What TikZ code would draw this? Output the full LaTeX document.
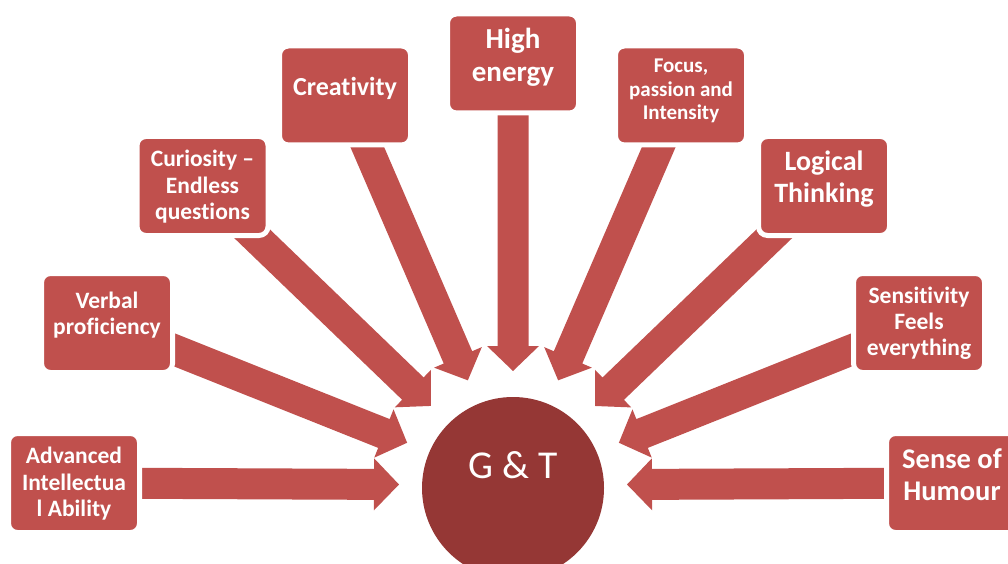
\documentclass[tikz,border=0pt]{standalone}
\usepackage{fontspec}
\setmainfont{Carlito}[Ligatures=NoCommon, Contextuals=NoAlternate]
\usetikzlibrary{calc}

\definecolor{boxred}{HTML}{C0504D}
\definecolor{hubred}{HTML}{953735}

\pgfdeclarelayer{arrows}
\pgfsetlayers{arrows,main}

\tikzset{
  trait/.style={draw=white, line width=5pt, fill=boxred, rounded corners=9pt,
    minimum width=131pt, minimum height=99pt, inner sep=0pt},
  traittext/.style={text=white, font=\bfseries, align=center, inner sep=0pt},
  hub/.style={circle, fill=hubred, minimum size=182pt, inner sep=0pt},
  hubtext/.style={text=white, inner sep=0pt, font=\fontsize{39.5}{40}\selectfont},
}

% block arrow from the centre of node #1 to the tip coordinate #2
\newcommand\blockarrow[2]{%
  \coordinate (ah) at ($(#2)!25pt!(#1)$);
  \fill[boxred] (#2)
    -- ($(ah)!26pt!90:(#1)$) -- ($(ah)!15.5pt!90:(#1)$)
    -- ($(#1)!15.5pt!-90:(#2)$) -- ($(#1)!15.5pt!90:(#2)$)
    -- ($(ah)!15.5pt!-90:(#1)$) -- ($(ah)!26pt!-90:(#1)$) -- cycle;
}

\begin{document}
\begin{tikzpicture}[x=1pt, y=-1pt]
\useasboundingbox (0,0) rectangle (1008,564);
\clip (0,0) rectangle (1008,564);

% centre circle
\node[hub] (hub) at (513,488) {};
\node[hubtext] (hublabel) at (513,465) {G \& T};
\coordinate (aim) at ([yshift=3pt]hub.center);

% trait boxes
\node[trait] (b1) at (74,483) {};
\node[trait] (b2) at (107,323) {};
\node[trait] (b3) at (202.5,186) {};
\node[trait] (b4) at (345,95.5) {};
\node[trait] (b5) at (513,63.5) {};
\node[trait] (b6) at (681,95.5) {};
\node[trait] (b7) at (824,186) {};
\node[trait] (b8) at (919,323) {};
\node[trait] (b9) at (952,483) {};

% box captions
\node[traittext, font=\bfseries\fontsize{23.5}{26.5}\selectfont] (t1) at (74,484) {Advanced\\Intellectua\\l Ability};
\node[traittext, font=\bfseries\fontsize{23.5}{26.5}\selectfont] (t2) at (107,315) {Verbal\\proficiency};
\node[traittext, font=\bfseries\fontsize{23.5}{26.5}\selectfont] (t3) at (202.5,187) {Curiosity --\\Endless\\questions};
\node[traittext, font=\bfseries\fontsize{26}{30}\selectfont] (t4) at (345,88) {Creativity};
\node[traittext, font=\bfseries\fontsize{29}{33}\selectfont] (t5) at (513,57) {High\\energy};
\node[traittext, font=\bfseries\fontsize{21}{23.5}\selectfont] (t6) at (681,91) {Focus,\\passion and\\Intensity};
\node[traittext, font=\bfseries\fontsize{28}{32}\selectfont] (t7) at (824,179) {Logical\\Thinking};
\node[traittext, font=\bfseries\fontsize{23.5}{26}\selectfont] (t8) at (919,323) {Sensitivity\\Feels\\everything};
\node[traittext, font=\bfseries\fontsize{28.5}{32}\selectfont] (t9) at (952,475) {Sense of\\Humour};

% arrows from every box towards the circle, behind the boxes
\begin{pgfonlayer}{arrows}
\foreach \i in {1,...,9} {
  \coordinate (tip\i) at ($(aim)!114pt!(b\i)$);
  \blockarrow{b\i}{tip\i}
}
\end{pgfonlayer}
\end{tikzpicture}
\end{document}
